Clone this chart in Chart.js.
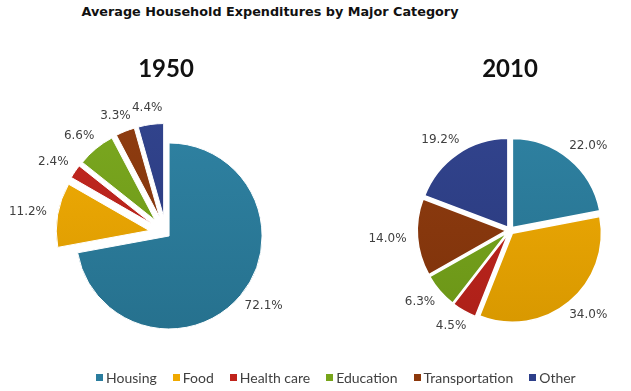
<!DOCTYPE html>
<html>
<head>
<meta charset="utf-8">
<script src="https://cdn.jsdelivr.net/npm/chart.js@4.4.1/dist/chart.umd.min.js"></script>
<style>
html,body{margin:0;padding:0;background:#fff;}
#wrap{position:relative;width:631px;height:391px;overflow:hidden;background:#fff;}
#title{position:absolute;left:0;top:4px;width:540px;text-align:center;font-family:"DejaVu Sans";font-weight:bold;font-size:12.8px;color:#111;white-space:nowrap;}
canvas{position:absolute;top:0;}
#c1{left:0;}
#c2{left:330px;}
#legend{position:absolute;left:96px;top:369px;display:flex;align-items:center;font-family:Lato;font-size:14px;color:#404040;white-space:nowrap;}
#legend .it{display:flex;align-items:center;margin-right:16px;}
#legend .sq{width:7px;height:7px;margin-right:3px;}
</style>
</head>
<body>
<div id="wrap">
  <div id="title"></div>
  <canvas id="c1" width="340" height="391"></canvas>
  <canvas id="c2" width="301" height="391"></canvas>
  <div id="legend"></div>
</div>
<script>
// ---- data ----
const chartTitle = 'Average Household Expenditures by Major Category';
const categories = ['Housing', 'Food', 'Health care', 'Education', 'Transportation', 'Other'];
const years = ['1950', '2010'];
const values1950 = [72.1, 11.2, 2.4, 6.6, 3.3, 4.4];
const values2010 = [22.0, 34.0, 4.5, 6.3, 14.0, 19.2];

// ---- styles ----
const colors = ['#2a7d9e', '#f0a900', '#c0231b', '#77a51a', '#8c380b', '#2d3f8a'];

function shade(hex, f) {
  const n = parseInt(hex.slice(1), 16);
  let r = (n >> 16) & 255, g = (n >> 8) & 255, b = n & 255;
  if (f >= 0) { r += (255 - r) * f; g += (255 - g) * f; b += (255 - b) * f; }
  else { r *= (1 + f); g *= (1 + f); b *= (1 + f); }
  return 'rgb(' + Math.round(r) + ',' + Math.round(g) + ',' + Math.round(b) + ')';
}

function gradientFill(ctx) {
  const chart = ctx.chart;
  const base = colors[ctx.dataIndex % colors.length];
  const ca = chart.chartArea;
  if (!ca) return base;
  const cy = (ca.top + ca.bottom) / 2;
  const g = chart.ctx.createLinearGradient(0, cy - 95, 0, cy + 95);
  g.addColorStop(0, shade(base, 0.02));
  g.addColorStop(1, shade(base, -0.1));
  return g;
}

// keep exploded slices at the pie's radius and full angular width
// (Chart.js enlarges and narrows offset arcs)
const radiusFix = {
  id: 'radiusFix',
  afterUpdate(chart) {
    chart.getSortedVisibleDatasetMetas().forEach(meta => {
      const R = meta.controller.outerRadius;
      meta.data.forEach(arc => {
        const px = (arc.options.offset || 0) / 4;
        const fix = 1 - Math.sin(Math.min(Math.PI, arc.circumference || 0));
        const ro = px * fix;
        arc.outerRadius = R - ro;
        const a = (ro / Math.PI) / R / 2;
        arc.startAngle -= a;
        arc.endAngle += a;
      });
    });
  }
};

// percentage labels outside the slices
const outLabels = {
  id: 'outLabels',
  afterDatasetsDraw(chart) {
    const ctx = chart.ctx;
    const meta = chart.getDatasetMeta(0);
    const R = meta.controller.outerRadius;
    const values = chart.data.datasets[0].data;
    ctx.save();
    ctx.font = '12px "DejaVu Sans"';
    ctx.fillStyle = '#404040';
    ctx.textAlign = 'center';
    ctx.textBaseline = 'middle';
    meta.data.forEach((arc, i) => {
      const mid = (arc.startAngle + arc.endAngle) / 2;
      const dx = Math.cos(mid), dy = Math.sin(mid);
      const px = (arc.options.offset || 0) / 4;
      const txt = values[i].toFixed(1) + '%';
      const w = ctx.measureText(txt).width;
      const d = R + px + 11;
      const x = arc.x + d * dx + (w / 2) * dx;
      const y = arc.y + d * dy + 6 * dy;
      ctx.fillText(txt, x, y);
    });
    ctx.restore();
  }
};

function makePie(id, year, values, radius, offsets, border, pad) {
  return new Chart(document.getElementById(id), {
    type: 'pie',
    data: {
      labels: categories,
      datasets: [{
        data: values,
        backgroundColor: gradientFill,
        borderColor: '#ffffff',
        borderWidth: border,
        offset: offsets,
        radius: radius,
        clip: false
      }]
    },
    options: {
      responsive: false,
      animation: false,
      events: [],
      layout: { padding: pad },
      plugins: {
        legend: { display: false },
        tooltip: { enabled: false },
        title: {
          display: true,
          text: year,
          color: '#111111',
          font: { family: 'Lato', size: 24, weight: 'bold' },
          padding: { top: 55, bottom: 0 }
        }
      }
    },
    plugins: [radiusFix, outLabels]
  });
}

document.getElementById('title').textContent = chartTitle;

makePie('c1', years[0], values1950, 93, [16, 68, 68, 68, 68, 68], 1, { left: 0, right: 8, top: 0, bottom: 8 });
makePie('c2', years[1], values2010, 89, [15, 15, 15, 15, 15, 15], 1.5, { left: 59, right: 0, top: 0, bottom: 14 });

// legend
const lg = document.getElementById('legend');
categories.forEach((c, i) => {
  const it = document.createElement('div');
  it.className = 'it';
  const sq = document.createElement('span');
  sq.className = 'sq';
  sq.style.background = colors[i];
  const t = document.createElement('span');
  t.textContent = c;
  it.appendChild(sq); it.appendChild(t);
  lg.appendChild(it);
});
</script>
</body>
</html>
